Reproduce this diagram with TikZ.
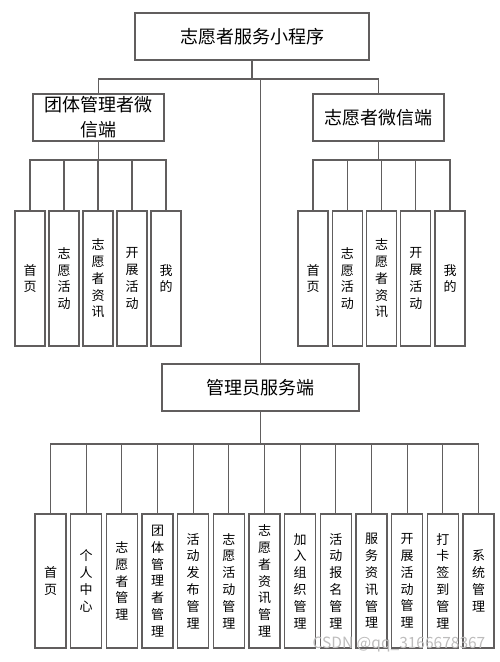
\documentclass[tikz,border=0pt]{standalone}
\usepackage{fontspec}
\setmainfont{Noto Sans CJK SC}
\usepackage{tikz}
\usetikzlibrary{calc, positioning}
\usepackage{xcolor}
\definecolor{LineGray}{cmyk}{0, 0, 0, 0.72}
\definecolor{MarkGray}{cmyk}{0, 0, 0, 0.30}
\tikzset{%
  head_block/.style={%
    rectangle,%
    draw=LineGray,%
    line width=1.2pt,%
    minimum height=47pt,%
    inner sep=0pt,%
    outer sep=0pt,%
    font={\fontsize{18}{25}\selectfont},%
    align=center%
  },
  leaf_block/.style={%
    rectangle,%
    draw=LineGray,%
    line width=1.2pt,%
    minimum width=30pt,%
    minimum height=135pt,%
    inner sep=0pt,%
    outer sep=0pt,%
    font={\fontsize{13}{16.8}\selectfont},%
    align=center%
  },
  tree_path/.style={%
    color=LineGray,%
    line width=1.2pt,%
    line join=miter%
  },
  watermark/.style={%
    color=MarkGray,%
    font={\fontsize{15.5}{16}\selectfont},%
  },
}
\begin{document}
\begin{tikzpicture}[x=1pt, y=-1pt]

    \useasboundingbox (0, 0) rectangle (500, 662);

    \node [head_block, minimum width=234pt] (App) at (252, 36.5) {志愿者服务小程序};
    \node [head_block, minimum width=131pt] (TeamEnd) at (98.5, 117.5) {团体管理者微\\信端};
    \node [head_block, minimum width=131pt] (VolEnd) at (378.5, 117.5) {志愿者微信端};
    \node [head_block, minimum width=197pt] (AdminEnd) at (260.5, 387.5) {管理员服务端};

    % team side
    \node [leaf_block] (Team1) at (30, 278.5) {首\\页};
    \node [leaf_block, right = 4pt of Team1] (Team2) {志\\愿\\活\\动};
    \node [leaf_block, right = 4pt of Team2] (Team3) {志\\愿\\者\\资\\讯};
    \node [leaf_block, right = 4pt of Team3] (Team4) {开\\展\\活\\动};
    \node [leaf_block, right = 4pt of Team4] (Team5) {我\\的};

    % volunteer side
    \node [leaf_block] (Vol1) at (313, 278.5) {首\\页};
    \node [leaf_block, right = 4.25pt of Vol1] (Vol2) {志\\愿\\活\\动};
    \node [leaf_block, right = 4.25pt of Vol2] (Vol3) {志\\愿\\者\\资\\讯};
    \node [leaf_block, right = 4.25pt of Vol3] (Vol4) {开\\展\\活\\动};
    \node [leaf_block, right = 4.25pt of Vol4] (Vol5) {我\\的};

    % admin side
    \node [leaf_block, minimum width=31pt, minimum height=134pt] (Adm1) at (50.5, 581) {首\\页};
    \node [leaf_block, minimum width=31pt, minimum height=134pt, right = 4.67pt of Adm1] (Adm2) {个\\人\\中\\心};
    \node [leaf_block, minimum width=31pt, minimum height=134pt, right = 4.67pt of Adm2] (Adm3) {志\\愿\\者\\管\\理};
    \node [leaf_block, minimum width=31pt, minimum height=134pt, right = 4.67pt of Adm3] (Adm4) {团\\体\\管\\理\\者\\管\\理};
    \node [leaf_block, minimum width=31pt, minimum height=134pt, right = 4.67pt of Adm4] (Adm5) {活\\动\\发\\布\\管\\理};
    \node [leaf_block, minimum width=31pt, minimum height=134pt, right = 4.67pt of Adm5] (Adm6) {志\\愿\\活\\动\\管\\理};
    \node [leaf_block, minimum width=31pt, minimum height=134pt, right = 4.67pt of Adm6] (Adm7) {志\\愿\\者\\资\\讯\\管\\理};
    \node [leaf_block, minimum width=31pt, minimum height=134pt, right = 4.67pt of Adm7] (Adm8) {加\\入\\组\\织\\管\\理};
    \node [leaf_block, minimum width=31pt, minimum height=134pt, right = 4.67pt of Adm8] (Adm9) {活\\动\\报\\名\\管\\理};
    \node [leaf_block, minimum width=31pt, minimum height=134pt, right = 4.67pt of Adm9] (Adm10) {服\\务\\资\\讯\\管\\理};
    \node [leaf_block, minimum width=31pt, minimum height=134pt, right = 4.67pt of Adm10] (Adm11) {开\\展\\活\\动\\管\\理};
    \node [leaf_block, minimum width=31pt, minimum height=134pt, right = 4.67pt of Adm11] (Adm12) {打\\卡\\签\\到\\管\\理};
    \node [leaf_block, minimum width=31pt, minimum height=134pt, right = 4.67pt of Adm12] (Adm13) {系\\统\\管\\理};

    \coordinate (app_bus) at ($(App.south)+(0, 19)$);
    \coordinate (team_bus) at ($(TeamEnd.south)+(0, 19)$);
    \coordinate (vol_bus) at ($(VolEnd.south)+(0, 19)$);
    \coordinate (adm_bus) at ($(AdminEnd.south)+(0, 33)$);

    \draw [tree_path] (App.south) -- (app_bus);
    \draw [tree_path] (app_bus) -| (TeamEnd.north);
    \draw [tree_path] (app_bus) -| (VolEnd.north);
    \draw [tree_path] (AdminEnd.north |- app_bus) -- (AdminEnd.north);

    \draw [tree_path] (TeamEnd.south) -- (team_bus);
    \draw [tree_path] (team_bus) -| (Team1.north);
    \draw [tree_path] (team_bus) -| (Team2.north);
    \draw [tree_path] (team_bus) -| (Team3.north);
    \draw [tree_path] (team_bus) -| (Team4.north);
    \draw [tree_path] (team_bus) -| (Team5.north);

    \draw [tree_path] (VolEnd.south) -- (vol_bus);
    \draw [tree_path] (vol_bus) -| (Vol1.north);
    \draw [tree_path] (vol_bus) -| (Vol2.north);
    \draw [tree_path] (vol_bus) -| (Vol3.north);
    \draw [tree_path] (vol_bus) -| (Vol4.north);
    \draw [tree_path] (vol_bus) -| (Vol5.north);

    \draw [tree_path] (AdminEnd.south) -- (adm_bus);
    \draw [tree_path] (adm_bus) -| (Adm1.north);
    \draw [tree_path] (adm_bus) -| (Adm2.north);
    \draw [tree_path] (adm_bus) -| (Adm3.north);
    \draw [tree_path] (adm_bus) -| (Adm4.north);
    \draw [tree_path] (adm_bus) -| (Adm5.north);
    \draw [tree_path] (adm_bus) -| (Adm6.north);
    \draw [tree_path] (adm_bus) -| (Adm7.north);
    \draw [tree_path] (adm_bus) -| (Adm8.north);
    \draw [tree_path] (adm_bus) -| (Adm9.north);
    \draw [tree_path] (adm_bus) -| (Adm10.north);
    \draw [tree_path] (adm_bus) -| (Adm11.north);
    \draw [tree_path] (adm_bus) -| (Adm12.north);
    \draw [tree_path] (adm_bus) -| (Adm13.north);

    \node [watermark] (Mark) at (399, 644) {CSDN @qq\_3166678367};

  \end{tikzpicture}
\end{document}
